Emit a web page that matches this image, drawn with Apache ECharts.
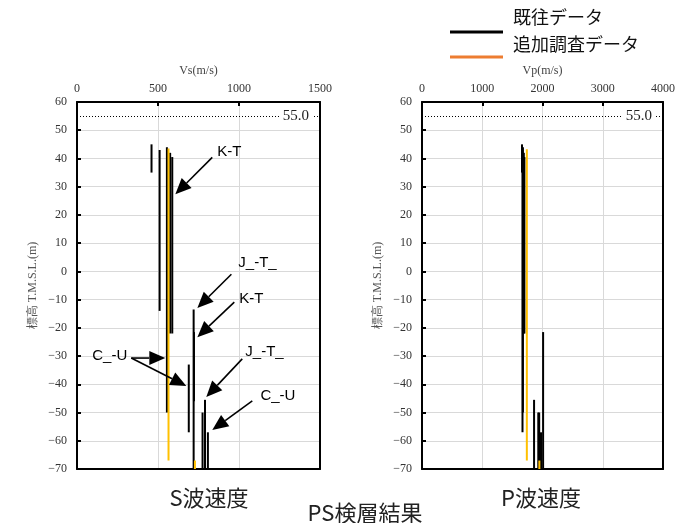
<!DOCTYPE html>
<html><head><meta charset="utf-8">
<script src="https://cdn.jsdelivr.net/npm/echarts@6/dist/echarts.min.js"></script>
<style>html,body{margin:0;padding:0;background:#fff}#c{width:680px;height:523px}</style>
</head><body><div id="c"></div>
<script>
// ---- data ----
const sTicks = [0, 500, 1000, 1500];
const pTicks = [0, 1000, 2000, 3000, 4000];
const elevTicks = [-70, -60, -50, -40, -30, -20, -10, 0, 10, 20, 30, 40, 50, 60];
// segments: [velocity, top elevation, bottom elevation]
const sExisting = [[460,45,35],[510,43,-14],[555,44,-50],[575,42,-22],[588,40.5,-22],[690,-33,-57],[720,-13.5,-70],[722,-21.5,-46],[775,-50,-70],[790,-45.5,-70],[808,-57,-70]];
const sAdded = [[565,43.5,-67],[728,-67,-70]];
const pExisting = [[1660,45,35],[1668,43,-57],[1675,44,-50],[1690,42,-22],[1700,40.5,-22],[1860,-45.5,-70],[1930,-50,-70],[1945,-50,-70],[1975,-57,-70],[2010,-21.5,-70]];
const pAdded = [[1740,43.3,-67],[1948,-67,-70]];
const refLevel = 55.0;
const legendNames = ['既往データ', '追加調査データ'];
const axisNames = ['Vs(m/s)', 'Vp(m/s)', '標高 T.M.S.L.(m)'];
const panelTitles = ['S波速度', 'P波速度', 'PS検層結果'];
// annotations (S-wave panel, data coords): label, text anchor [v,e], arrows [[fromV,fromE],[toV,toE]]
const annotations = [
  {text:'K-T',  at:[866,42.2],  arrows:[[[835,40.4],[607,27.3]]]},
  {text:'J_-T_',at:[996,2.9],   arrows:[[[953,-1],[743,-13]]]},
  {text:'K-T',  at:[1002,-9.8], arrows:[[[971,-10.9],[743,-23.3]]]},
  {text:'C_-U', at:[94,-30],    arrows:[[[335,-30.7],[545,-30.7]],[[335,-30.7],[675,-40.6]]]},
  {text:'J_-T_',at:[1039,-28.6],arrows:[[[1020,-31],[798,-44.5]]]},
  {text:'C_-U', at:[1132,-44.1],arrows:[[[1082,-45.9],[835,-56.2]]]}
];

const BLACK = '#000', GOLD = '#FFC000', LEG_ORANGE = '#ED7D31';
const serif = 'Liberation Serif';
const chart = echarts.init(document.getElementById('c'));

const frameLine = {show:true, onZero:false, lineStyle:{color:'#000', width:2}};
const gridSplit = {show:true, lineStyle:{color:'#d9d9d9', width:1, type:'solid'}};
const tick = {show:true, inside:true, length:4, lineStyle:{color:'#000', width:2}};

function xAx(gi, ticks, name) {
  return {type:'value', gridIndex:gi, position:'top', min:ticks[0], max:ticks[ticks.length-1], interval:ticks[1]-ticks[0],
    name, nameLocation:'middle', nameGap:25, nameTextStyle:{fontFamily:serif, fontSize:12, color:'#444'},
    axisLine:frameLine, axisTick:tick,
    axisLabel:{fontFamily:serif, fontSize:12, color:'#333', margin:7, formatter:v => String(v)},
    splitLine:gridSplit};
}
function xFrame(gi, ticks) {
  return {type:'value', gridIndex:gi, position:'bottom', min:ticks[0], max:ticks[ticks.length-1], interval:ticks[1]-ticks[0],
    axisLine:frameLine, axisTick:{show:false}, axisLabel:{show:false}, splitLine:{show:false}};
}
function yAx(gi) {
  return {type:'value', gridIndex:gi, position:'left', min:elevTicks[0], max:elevTicks[elevTicks.length-1], interval:elevTicks[1]-elevTicks[0],
    name:axisNames[2], nameLocation:'middle', nameGap:38, nameRotate:90, nameTextStyle:{fontFamily:serif, fontSize:12, color:'#555'},
    axisLine:frameLine, axisTick:tick,
    axisLabel:{fontFamily:serif, fontSize:12, color:'#333', margin:10, formatter:v => String(v).replace('-', '\u2212')},
    splitLine:gridSplit};
}
function yFrame(gi) {
  return {type:'value', gridIndex:gi, position:'right', min:elevTicks[0], max:elevTicks[elevTicks.length-1], interval:elevTicks[1]-elevTicks[0],
    axisLine:frameLine, axisTick:{show:false}, axisLabel:{show:false}, splitLine:{show:false}};
}
function segs(list, color, gi) {
  return list.map(d => ({type:'line', xAxisIndex:gi*2, yAxisIndex:gi*2, data:[[d[0],d[1]],[d[0],d[2]]],
    symbol:'none', lineStyle:{color, width:2}, silent:true, z:3}));
}
function refLine(gi) {
  return {type:'line', xAxisIndex:gi*2, yAxisIndex:gi*2, data:[], silent:true,
    markLine:{silent:true, symbol:'none', animation:false,
      lineStyle:{color:'#000', width:1, type:[1,2]},
      label:{show:true, formatter:refLevel.toFixed(1), position:'insideEnd', distance:8,
        fontFamily:serif, fontSize:15, color:'#222', backgroundColor:'#fff', padding:[1,3]},
      data:[{yAxis:refLevel}]}};
}

const series = [].concat(
  segs(sExisting, BLACK, 0), segs(sAdded, GOLD, 0),
  segs(pExisting, BLACK, 1), segs(pAdded, GOLD, 1),
  [refLine(0), refLine(1)]
);

chart.setOption({
  animation:false,
  grid:[
    {left:77, top:102, width:243, height:367},
    {left:422, top:102, width:241, height:367}
  ],
  xAxis:[xAx(0, sTicks, axisNames[0]), xFrame(0, sTicks), xAx(1, pTicks, axisNames[1]), xFrame(1, pTicks)],
  yAxis:[yAx(0), yFrame(0), yAx(1), yFrame(1)],
  series
});

// annotations + titles + legend
const g = [];
const sans = 'Liberation Sans';
annotations.forEach(a => {
  const p = chart.convertToPixel({xAxisIndex:0, yAxisIndex:0}, a.at);
  g.push({type:'text', x:p[0], y:p[1], z:10, style:{text:a.text, fontFamily:sans, fontSize:15, fill:'#000', textVerticalAlign:'middle', textAlign:'left'}});
  a.arrows.forEach(ar => {
    const f = chart.convertToPixel({xAxisIndex:0, yAxisIndex:0}, ar[0]);
    const t = chart.convertToPixel({xAxisIndex:0, yAxisIndex:0}, ar[1]);
    const dx = t[0]-f[0], dy = t[1]-f[1], L = Math.hypot(dx,dy), ux = dx/L, uy = dy/L;
    const hl = 16, hw = 7;
    const bx = t[0]-ux*hl, by = t[1]-uy*hl;
    g.push({type:'line', z:10, shape:{x1:f[0], y1:f[1], x2:bx, y2:by}, style:{stroke:'#000', lineWidth:1.6}});
    g.push({type:'polygon', z:10, shape:{points:[[t[0],t[1]],[bx-uy*hw, by+ux*hw],[bx+uy*hw, by-ux*hw]]}, style:{fill:'#000'}});
  });
});
const cjk = 'Noto Sans CJK JP';
g.push({type:'text', x:209, y:498, style:{text:panelTitles[0], fontFamily:cjk, fontSize:22, fill:'#222', textAlign:'center', textVerticalAlign:'middle'}});
g.push({type:'text', x:541, y:498, style:{text:panelTitles[1], fontFamily:cjk, fontSize:22, fill:'#222', textAlign:'center', textVerticalAlign:'middle'}});
g.push({type:'text', x:365, y:513, style:{text:panelTitles[2], fontFamily:cjk, fontSize:22, fill:'#222', textAlign:'center', textVerticalAlign:'middle'}});
// legend
g.push({type:'line', shape:{x1:450, y1:32, x2:503, y2:32}, style:{stroke:BLACK, lineWidth:3}});
g.push({type:'line', shape:{x1:450, y1:57, x2:503, y2:57}, style:{stroke:LEG_ORANGE, lineWidth:3}});
g.push({type:'text', x:513, y:17, style:{text:legendNames[0], fontFamily:cjk, fontSize:18, fill:'#111', textAlign:'left', textVerticalAlign:'middle'}});
g.push({type:'text', x:513, y:44, style:{text:legendNames[1], fontFamily:cjk, fontSize:18, fill:'#111', textAlign:'left', textVerticalAlign:'middle'}});
chart.setOption({graphic:{elements:g}});
</script></body></html>
